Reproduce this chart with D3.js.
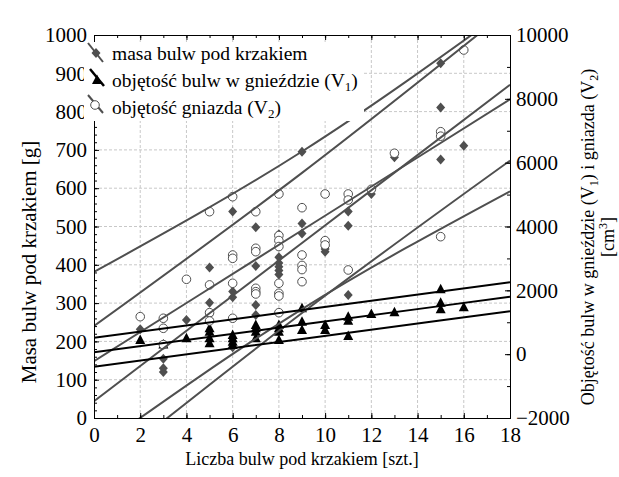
<!DOCTYPE html>
<html><head><meta charset="utf-8">
<script src="https://cdn.jsdelivr.net/npm/d3@7"></script>
<style>
body{margin:0;background:#fff}
svg{display:block}
text{font-family:"Liberation Serif","Times New Roman",serif;fill:#000}
</style>
</head><body><svg id="c" width="619" height="477"></svg>
<script>
// ---- data ----
const masaX = [2,3,3,3,4,5,5,5,6,6,6,6,7,7,7,7,8,8,8,8,8,8,9,9,9,10,10,10,11,11,11,12,13,15,15,15,16];
const masaY = [232,155,130,120,256,393,301,270,539,330,315,185,498,397,295,269,480,420,405,395,385,375,695,508,482,447,441,434,539,502,321,585,681,926,811,675,711];

const v1X = [2,3,4,5,5,5,5,6,6,6,6,7,7,7,7,8,8,8,8,9,9,9,10,10,11,11,11,12,13,15,15,15,16];
const v1Y = [445,300,498,811,705,498,341,601,498,392,288,915,811,705,498,915,811,705,445,1438,1018,758,915,758,1175,1050,570,1259,1312,2033,1614,1407,1469];

const v2X = [2,3,3,3,4,5,5,5,5,6,6,6,6,6,7,7,7,7,7,7,8,8,8,8,8,8,8,8,9,9,9,9,9,10,10,10,11,11,11,12,13,15,15,15,16];
const v2Y = [1175,1125,811,300,2346,4464,2170,1300,1040,4933,3107,3003,2221,1125,4464,3318,3211,2064,1958,1886,5019,3716,3560,3372,2221,1908,1824,1300,4589,3107,2780,2650,2271,5019,3556,3421,5019,4830,2638,5166,6295,6970,6830,3681,9530];

// fitted line and its two bands: values at x = 0, 9, 18
const lineXs = [0, 9, 18];
const masaLines = [[240,640,1068],[44,457,870],[-152,274,672]];
const v1Lines = [[512,1381,2251],[60,929,1799],[-392,477,1347]];
const v2Lines = [[2575,6350,10868],[-222,3882,7986],[-3019,1414,5104]];

const xTicks = [0,2,4,6,8,10,12,14,16,18];
const yLTicks = [0,100,200,300,400,500,600,700,800,900,1000];
const yRTicks = [-2000,0,2000,4000,6000,8000,10000];

const legendLabels = ["masa bulw pod krzakiem","objętość bulw w gnieździe (V","objętość gniazda (V"];

// ---- layout ----
const P = {l:94, r:510, t:35, b:418};
const svg = d3.select("#c");
const x = d3.scaleLinear().domain([0,18]).range([P.l,P.r]);
const yL = d3.scaleLinear().domain([0,1000]).range([P.b,P.t]);
const yR = d3.scaleLinear().domain([-2000,10000]).range([P.b,P.t]);

const GRAY = "#4f4f4f";
const FONT = '"Liberation Serif","Times New Roman",serif';
const TICKFS = "21px";

// grid
const g = svg.append("g");
g.selectAll(".vg").data(xTicks.filter(d=>d>0&&d<18)).join("line")
  .attr("x1",d=>x(d)).attr("x2",d=>x(d)).attr("y1",P.t).attr("y2",P.b)
  .attr("stroke","#c8c8c8").attr("stroke-dasharray","3,2");
g.selectAll(".hg").data(yLTicks.filter(d=>d>0&&d<1000)).join("line")
  .attr("y1",d=>yL(d)).attr("y2",d=>yL(d)).attr("x1",P.l).attr("x2",P.r)
  .attr("stroke","#c8c8c8").attr("stroke-dasharray","3,2");

// clip
svg.append("clipPath").attr("id","clip").append("rect")
  .attr("x",P.l).attr("y",P.t).attr("width",P.r-P.l).attr("height",P.b-P.t);
const plot = svg.append("g").attr("clip-path","url(#clip)");

// markers
const diamond = "M0,-5L4.5,0L0,5L-4.5,0Z";
const tri = "M0,-5.5L5,4L-5,4Z";

plot.selectAll(".m").data(masaX.map((d,i)=>[d,masaY[i]])).join("path")
  .attr("d",diamond).attr("fill",GRAY)
  .attr("transform",d=>`translate(${x(d[0])},${yL(d[1])})`);
plot.selectAll(".v1").data(v1X.map((d,i)=>[d,v1Y[i]])).join("path")
  .attr("d",tri).attr("fill","#000")
  .attr("transform",d=>`translate(${x(d[0])},${yR(d[1])})`);
plot.selectAll(".v2").data(v2X.map((d,i)=>[d,v2Y[i]])).join("circle")
  .attr("r",4.3).attr("fill","#fff").attr("stroke",GRAY).attr("stroke-width",1)
  .attr("cx",d=>x(d[0])).attr("cy",d=>yR(d[1]));

// lines
function drawLines(arr, ys, col){
  arr.forEach(v=>{
    plot.append("path")
      .attr("d", d3.line().curve(d3.curveNatural)(lineXs.map((xx,i)=>[x(xx), ys(v[i])])))
      .attr("fill","none").attr("stroke",col).attr("stroke-width",2);
  });
}
drawLines(masaLines, yL, GRAY);
drawLines(v2Lines, yR, GRAY);
drawLines(v1Lines, yR, "#000");

// axes
function styleAxis(sel){
  sel.attr("font-family",FONT);
  sel.selectAll("text").style("font-size",TICKFS).style("font-family",FONT);
  sel.selectAll("line").attr("stroke","#000");
  sel.select(".domain").attr("stroke","#000");
}
const minorX = d3.range(0,19,1);
svg.append("g").attr("transform",`translate(0,${P.b})`)
  .call(d3.axisBottom(x).tickValues(minorX).tickSize(-3).tickFormat("")).call(styleAxis);
svg.append("g").attr("transform",`translate(0,${P.b})`)
  .call(d3.axisBottom(x).tickValues(xTicks).tickSize(-5).tickPadding(9).tickFormat(d3.format("d"))).call(styleAxis);
svg.append("g").attr("transform",`translate(0,${P.t})`)
  .call(d3.axisTop(x).tickValues(minorX).tickSize(-3).tickFormat("")).call(styleAxis);
svg.append("g").attr("transform",`translate(0,${P.t})`)
  .call(d3.axisTop(x).tickValues(xTicks).tickSize(-5).tickFormat("")).call(styleAxis);

svg.append("g").attr("transform",`translate(${P.l},0)`)
  .call(d3.axisLeft(yL).tickValues(d3.range(0,1001,20)).tickSize(-3).tickFormat("")).call(styleAxis);
svg.append("g").attr("transform",`translate(${P.l},0)`)
  .call(d3.axisLeft(yL).tickValues(yLTicks).tickSize(-5).tickPadding(7).tickFormat(d3.format("d"))).call(styleAxis);

svg.append("g").attr("transform",`translate(${P.r},0)`)
  .call(d3.axisRight(yR).tickValues(d3.range(-2000,10001,1000)).tickSize(-3).tickFormat("")).call(styleAxis);
svg.append("g").attr("transform",`translate(${P.r},0)`)
  .call(d3.axisRight(yR).tickValues(yRTicks).tickSize(-5).tickPadding(6).tickFormat(d3.format("d"))).call(styleAxis);

// titles
svg.append("text").attr("x",(P.l+P.r)/2).attr("y",465).attr("text-anchor","middle")
  .style("font-size","18px").text("Liczba bulw pod krzakiem [szt.]");
svg.append("text").attr("transform","translate(36,262) rotate(-90)").attr("text-anchor","middle")
  .style("font-size","21px").text("Masa bulw pod krzakiem [g]");
const rt = svg.append("text").attr("transform","translate(594,237) rotate(-90)").attr("text-anchor","middle")
  .style("font-size","18px");
rt.append("tspan").text("Objętość bulw w gnieździe (V");
rt.append("tspan").attr("dy",4).style("font-size","12px").text("1");
rt.append("tspan").attr("dy",-4).text(") i gniazda (V");
rt.append("tspan").attr("dy",4).style("font-size","12px").text("2");
rt.append("tspan").attr("dy",-4).text(")");
const rt2 = svg.append("text").attr("transform","translate(614,237) rotate(-90)").attr("text-anchor","middle")
  .style("font-size","18px");
rt2.append("tspan").text("[cm");
rt2.append("tspan").attr("dy",-7).style("font-size","12px").text("3");
rt2.append("tspan").attr("dy",7).text("]");

// legend
svg.append("rect").attr("x",84).attr("y",42).attr("width",280).attr("height",79).attr("fill","#fff");
const lg = svg.append("g");
const legY = [53, 80, 107];
lg.append("line").attr("x1",88).attr("y1",legY[0]-10).attr("x2",103).attr("y2",legY[0]+9).attr("stroke",GRAY).attr("stroke-width",2);
lg.append("path").attr("d",diamond).attr("fill",GRAY).attr("transform",`translate(96,${legY[0]})`);
lg.append("line").attr("x1",90).attr("y1",legY[1]-11).attr("x2",104).attr("y2",legY[1]+6).attr("stroke","#000").attr("stroke-width",2.5);
lg.append("path").attr("d",tri).attr("fill","#000").attr("transform",`translate(97,${legY[1]})`);
lg.append("line").attr("x1",88).attr("y1",legY[2]-12).attr("x2",103).attr("y2",legY[2]+6).attr("stroke",GRAY).attr("stroke-width",2);
lg.append("circle").attr("cx",95).attr("cy",legY[2]-2).attr("r",4.3).attr("fill","#fff").attr("stroke",GRAY);

const lt = (i)=>lg.append("text").attr("x",112).attr("y",legY[i]).attr("dy","0.35em").style("font-size","19.5px");
lt(0).text(legendLabels[0]);
const t2 = lt(1); t2.append("tspan").text(legendLabels[1]);
t2.append("tspan").attr("dy",4).style("font-size","13px").text("1");
t2.append("tspan").attr("dy",-4).text(")");
const t3 = lt(2); t3.append("tspan").text(legendLabels[2]);
t3.append("tspan").attr("dy",4).style("font-size","13px").text("2");
t3.append("tspan").attr("dy",-4).text(")");
</script>
</body></html>
